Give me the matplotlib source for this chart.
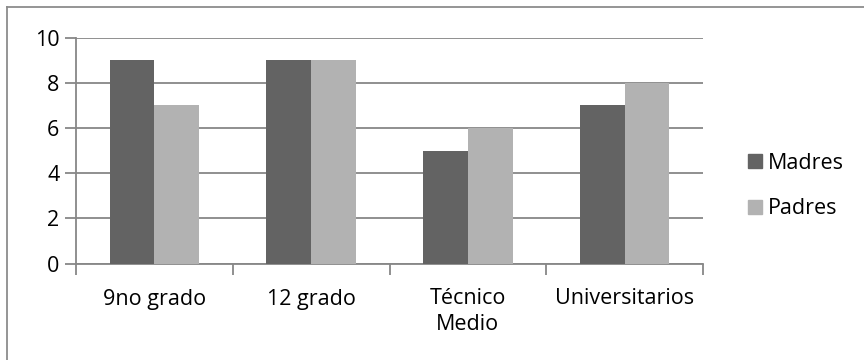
import matplotlib
matplotlib.use("Agg")
import matplotlib.pyplot as plt
from matplotlib.lines import Line2D
import numpy as np

categories = ["9no grado", "12 grado", "Técnico\nMedio", "Universitarios"]
madres = [9, 9, 5, 7]
padres = [7, 9, 6, 8]
series_names = ["Madres", "Padres"]
y_ticks = [0, 2, 4, 6, 8, 10]

dark = "#636363"
light = "#b2b2b2"
grid_col = "#878787"
fs = 15.5

plt.rcParams["font.family"] = ["Open Sans", "DejaVu Sans"]

W, H = 864, 360
fig = plt.figure(figsize=(W / 100, H / 100), dpi=100)
ax = fig.add_axes([76 / W, 1 - 263.5 / H, (703 - 76) / W, (263.5 - 37.5) / H])

x = np.arange(len(categories))
w = 1 / 3.5
ax.bar(x - w / 2, madres, width=w, color=dark, label=series_names[0], zorder=3)
ax.bar(x + w / 2, padres, width=w, color=light, label=series_names[1], zorder=3)

ax.set_xlim(-0.5, len(categories) - 0.5)
ax.set_ylim(0, 10)
ax.set_yticks(y_ticks)
ax.set_yticklabels([str(t) for t in y_ticks])
ax.yaxis.grid(True, color=grid_col, linewidth=1.3, zorder=0)
ax.set_axisbelow(True)

ax.set_xticks(np.arange(len(categories) + 1) - 0.5, minor=False)
ax.set_xticklabels([])
ax.set_xticks(x, minor=True)
ax.set_xticklabels(categories, minor=True, fontsize=fs, linespacing=1.3)
ax.tick_params(axis="x", which="major", length=8, width=1.3, color=grid_col, direction="out")
ax.tick_params(axis="x", which="minor", length=0, pad=18)
ax.tick_params(axis="y", length=8, width=1.3, color=grid_col, labelsize=fs, pad=4)

for s in ["top", "right"]:
    ax.spines[s].set_visible(False)
for s in ["left", "bottom"]:
    ax.spines[s].set_color(grid_col)
    ax.spines[s].set_linewidth(1.3)

handles = [plt.Rectangle((0, 0), 1, 1, color=dark), plt.Rectangle((0, 0), 1, 1, color=light)]
fig.legend(handles, series_names, loc="center left", bbox_to_anchor=(737 / W, 1 - 186 / H),
           frameon=False, fontsize=fs, handlelength=0.65, handleheight=0.65,
           handletextpad=0.3, labelspacing=1.15, borderpad=0)

# chart-area border
fig.add_artist(Line2D([7 / W, 7 / W], [0, 1 - 7 / H], color="#8c8c8c", linewidth=1.3))
fig.add_artist(Line2D([7 / W, 1], [1 - 7 / H, 1 - 7 / H], color="#8c8c8c", linewidth=1.3))

fig.savefig("out.png", dpi=100)
